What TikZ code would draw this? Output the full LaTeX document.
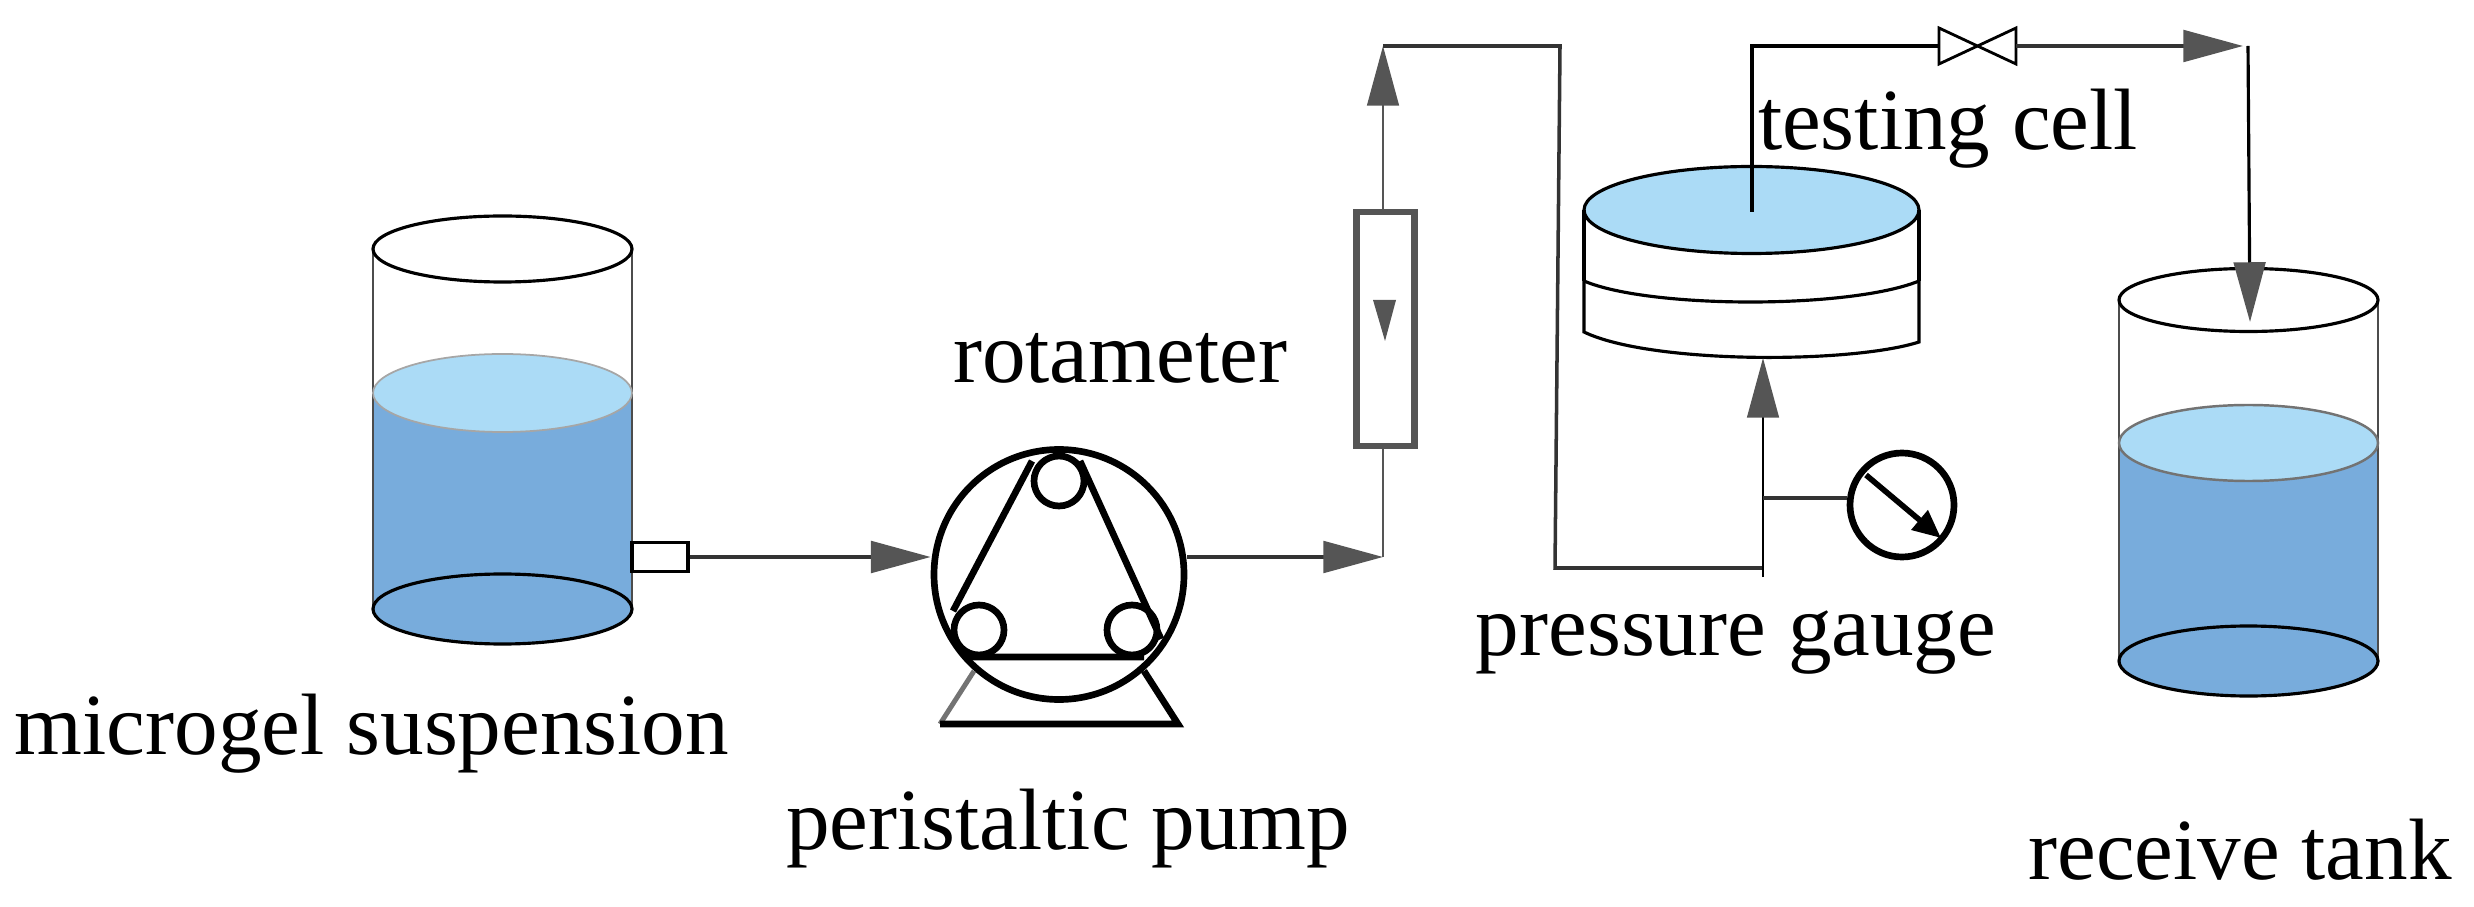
\documentclass[tikz,border=0pt]{standalone}
\usepackage{fontspec}
\setmainfont{Liberation Serif}
\usetikzlibrary{arrows.meta}
\definecolor{liquidtop}{HTML}{ABDBF6}
\definecolor{liquid}{HTML}{78ACDC}
\definecolor{pipegray}{HTML}{555555}
\tikzset{
    lbl/.style={anchor=base, font=\fontsize{24.8}{30}\selectfont, inner sep=0pt},
    pipe/.style={draw=black!80, line width=1pt},
    flow/.style={pipe, -{Triangle[length=17pt, width=9pt, color=pipegray]}},
    vessel/.style={draw=black, line width=0.9pt},
    wall/.style={draw=black!70, line width=0.6pt},
    heavy/.style={draw=black, line width=1.9pt},
    roller/.style={circle, heavy, minimum size=0.5cm, inner sep=0pt},
}
\begin{document}
\begin{tikzpicture}
    \useasboundingbox (0, 0) rectangle (24.74, 9.06);

    % left tank
    \fill[liquid] (3.73, 5.13) -- (3.73, 2.97) arc[x radius=1.295, y radius=0.35, start angle=180, end angle=360] -- (6.32, 5.13) -- cycle;
    \draw[wall] (3.73, 6.57) -- (3.73, 2.97) (6.32, 6.57) -- (6.32, 2.97);
    \draw[vessel, fill=white] (5.025, 6.57) ellipse[x radius=1.295, y radius=0.33];
    \draw[draw=black!35, line width=0.5pt, fill=liquidtop] (5.025, 5.13) ellipse[x radius=1.295, y radius=0.39];
    \draw[vessel] (5.025, 2.97) ellipse[x radius=1.295, y radius=0.35];
    \node[draw=black, line width=0.9pt, fill=white, minimum width=0.56cm, minimum height=0.29cm, inner sep=0pt] (nozzle) at (6.60, 3.49) {};

    % pump
    \node[circle, heavy, minimum size=2.5cm, inner sep=0pt] (pump) at (10.59, 3.315) {};
    \node[roller] (roller_t) at (10.59, 4.25) {};
    \node[roller] (roller_l) at (9.79, 2.76) {};
    \node[roller] (roller_r) at (11.32, 2.76) {};
    \draw[heavy]
    (10.32, 4.45) -- (9.53, 2.95)
    (10.80, 4.45) -- (11.61, 2.67)
    (9.66, 2.49) -- (11.44, 2.49);
    \draw[draw=black!55, line width=1.4pt] (9.74, 2.35) -- (9.40, 1.82);
    \draw[heavy] (9.40, 1.82) -- (11.78, 1.82) -- (11.44, 2.35);

    % rotameter and testing cell
    \node[draw=pipegray, line width=1.8pt, minimum width=0.58cm, minimum height=2.34cm, inner sep=0pt] (rota) at (13.855, 5.77) {};
    \fill[pipegray] (13.73, 6.06) -- (13.96, 6.06) -- (13.85, 5.65) -- cycle;
    \draw[vessel] (15.84, 6.25) -- (15.84, 5.74) .. controls (16.5, 5.42) and (18.5, 5.42) .. (19.19, 5.64) -- (19.19, 6.25);
    \draw[vessel] (15.84, 6.25) .. controls (16.5, 5.97) and (18.5, 5.97) .. (19.19, 6.25);
    \draw[vessel, fill=liquidtop] (17.515, 6.96) ellipse[x radius=1.675, y radius=0.435];
    \draw[vessel] (15.84, 6.96) -- (15.84, 6.25) (19.19, 6.96) -- (19.19, 6.25);

    % right tank
    \fill[liquid] (21.19, 4.63) -- (21.19, 2.45) arc[x radius=1.295, y radius=0.35, start angle=180, end angle=360] -- (23.78, 4.63) -- cycle;
    \draw[wall] (21.19, 6.06) -- (21.19, 2.45) (23.78, 6.06) -- (23.78, 2.45);
    \draw[vessel, fill=white] (22.485, 6.06) ellipse[x radius=1.295, y radius=0.315];
    \draw[draw=black!55, line width=0.7pt, fill=liquidtop] (22.485, 4.63) ellipse[x radius=1.295, y radius=0.38];
    \draw[vessel] (22.485, 2.45) ellipse[x radius=1.295, y radius=0.35];

    % gauge
    \node[circle, heavy, minimum size=1.04cm, inner sep=0pt] (gauge) at (19.02, 4.01) {};

    % pipe corners
    \coordinate (c_pump) at (13.83, 3.49);
    \coordinate (c_top) at (13.83, 8.60);
    \coordinate (c_over) at (15.60, 8.60);
    \coordinate (c_low) at (15.55, 3.38);
    \coordinate (c_tee) at (17.63, 3.38);
    \coordinate (c_tail) at (17.63, 3.29);
    \coordinate (c_cell) at (17.63, 5.48);
    \coordinate (c_gauge) at (17.63, 4.08);
    \coordinate (c_in) at (17.52, 6.94);
    \coordinate (c_up) at (17.52, 8.60);
    \coordinate (valve_l) at (19.39, 8.60);
    \coordinate (valve_r) at (20.16, 8.60);
    \coordinate (c_right) at (22.43, 8.60);
    \coordinate (c_corner) at (22.48, 8.60);
    \coordinate (c_tank) at (22.50, 5.84);
    \coordinate (needle_a) at (18.66, 4.31);
    \coordinate (needle_b) at (19.41, 3.68);

    % valve
    \draw[draw=black, line width=0.8pt] (19.39, 8.78) -- (20.16, 8.42) -- (20.16, 8.78) -- (19.39, 8.42) -- cycle;

    \draw[flow] (nozzle.east) -- (pump.west |- nozzle.east);
    \draw[flow] (pump.east |- c_pump) -- (c_pump);
    \draw[draw=pipegray, line width=0.8pt] (c_pump) -- (rota.south -| c_pump);
    \draw[draw=pipegray, line width=0.8pt, -{Triangle[length=17pt, width=9pt, color=pipegray]}] (rota.north -| c_top) -- (c_top);
    \draw[pipe] (c_top) -- (c_over) -- (c_low) -- (c_tee);
    \draw[draw=black, line width=0.8pt, -{Triangle[length=17pt, width=9pt, color=pipegray]}] (c_tail) -- (c_cell);
    \draw[pipe] (c_gauge) -- (gauge.west |- c_gauge);
    \draw[draw=black, line width=0.9pt] (c_in) -- (c_up) -- (valve_l);
    \draw[flow] (valve_r) -- (c_right);
    \draw[draw=black, line width=0.9pt, -{Triangle[length=17pt, width=9pt, color=pipegray]}] (c_corner) -- (c_tank);
    \draw[draw=black, line width=1.6pt, -{Triangle[length=8pt, width=7pt]}] (needle_a) -- (needle_b);

    % labels
    \node[lbl] (l_micro) at (3.72, 1.52) {microgel suspension};
    \node[lbl] (l_peri) at (10.68, 0.57) {peristaltic pump};
    \node[lbl] (l_rota) at (11.20, 5.23) {rotameter};
    \node[lbl] (l_test) at (19.48, 7.56) {testing cell};
    \node[lbl] (l_press) at (17.36, 2.51) {pressure gauge};
    \node[lbl] (l_recv) at (22.40, 0.27) {receive tank};
\end{tikzpicture}
\end{document}
